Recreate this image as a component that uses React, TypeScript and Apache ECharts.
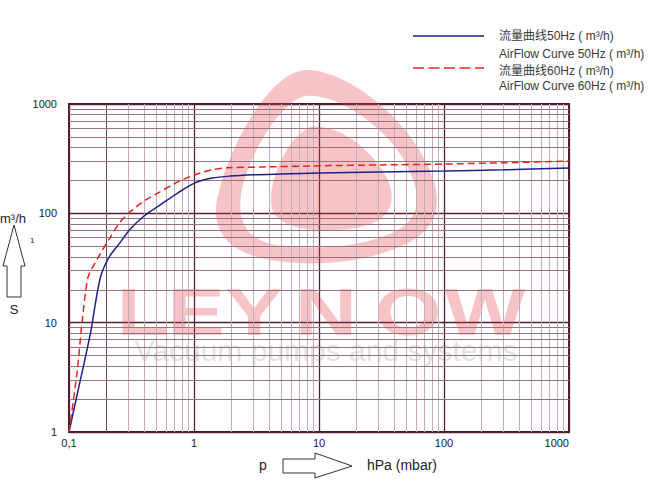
import React, { useEffect, useRef } from "react";
import * as echarts from "echarts";

// ---- data ----
const pressure50 = [0.1, 0.12, 0.134, 0.15, 0.161, 0.17, 0.18, 0.195, 0.213, 0.256, 0.307, 0.4, 0.534, 0.75, 1.02, 1.4, 1.94, 3, 5, 10, 30, 100, 300, 1000];
const flow50 = [1, 2.6, 4.6, 8.5, 14, 20, 27, 34, 41, 54, 71, 95, 119, 155, 190, 210, 219, 225, 229, 234, 239, 244, 250, 260];
const pressure60 = [0.1, 0.116, 0.127, 0.142, 0.167, 0.213, 0.256, 0.307, 0.4, 0.534, 0.75, 1.06, 1.4, 1.84, 3.36, 10, 30, 100, 300, 1000];
const flow60 = [1, 3.5, 9.9, 26, 37.5, 60, 83, 103, 130, 157, 195, 229, 250, 261, 265, 272, 277, 282, 290, 300];

const xMinorTicks = [0.2, 0.3, 0.4, 0.5, 0.6, 0.7, 0.8, 0.9, 2, 3, 4, 5, 6, 7, 8, 9, 20, 30, 40, 50, 60, 70, 80, 90, 200, 300, 400, 500, 600, 700, 800, 900];
const yMinorTicks = [2, 3, 4, 5, 6, 7, 8, 9, 20, 30, 40, 50, 60, 70, 80, 90, 200, 300, 400, 500, 600, 700, 800, 900];

const legendLabels = [
  "流量曲线50Hz ( m³/h)",
  "AirFlow Curve 50Hz ( m³/h)",
  "流量曲线60Hz ( m³/h)",
  "AirFlow Curve 60Hz ( m³/h)",
];

const FONT = "Liberation Sans, Arial, Noto Sans CJK SC, sans-serif";
const MAJOR = "#55222f";
const BORDER = "#4a1a28";
const XMINOR = "#c4adb4";
const YMINOR = "#98737d";
const TINT = "rgba(225,60,70,0.3)";

const LOGO_D =
  "M 305 70 C 340 68 400 110 425 160 C 445 200 440 225 410 242 C 370 262 320 268 270 260 C 225 252 210 228 218 195 C 228 150 268 73 305 70 Z " +
  "M 306 96 C 280 100 246 160 241 195 C 237 225 250 240 275 245 C 320 251 370 246 400 229 C 424 213 420 190 405 162 C 385 125 335 93 306 96 Z " +
  "M 310 127 C 340 124 373 150 388 180 C 398 205 388 223 355 228 C 320 233 287 230 274 214 C 264 198 280 142 310 127 Z";

let registered = false;

export default function App() {
  const ref = useRef<HTMLDivElement>(null);
  useEffect(() => {
    if (!registered) {
      echarts.graphic.registerShape("logo", echarts.graphic.extendPath(LOGO_D, {}));
      registered = true;
    }
    const chart = echarts.init(ref.current!, null, { renderer: "svg" });
    const letters = [
      { t: "L", x: 143 },
      { t: "E", x: 196 },
      { t: "Y", x: 254 },
      { t: "N", x: 326 },
      { t: "O", x: 408 },
      { t: "W", x: 485 },
    ];
    const option: any = {
      animation: false,
      backgroundColor: "#ffffff",
      textStyle: { fontFamily: FONT },
      grid: {
        left: 69,
        top: 104,
        width: 500,
        height: 328,
        show: true,
        borderColor: BORDER,
        borderWidth: 2,
        backgroundColor: "transparent",
      },
      xAxis: {
        type: "log",
        logBase: 10,
        min: 0.1,
        max: 1000,
        axisLine: { show: false },
        axisTick: { show: false },
        axisLabel: {
          color: "#222",
          fontSize: 11,
          margin: 5,
          fontFamily: FONT,
          alignMaxLabel: "right",
          formatter: (v: number) => (Math.abs(v - 0.1) < 1e-9 ? "0,1" : String(Math.round(v))),
        },
        splitLine: { show: true, lineStyle: { color: MAJOR, width: 1.3 } },
      },
      yAxis: {
        type: "log",
        logBase: 10,
        min: 1,
        max: 1000,
        axisLine: { show: false },
        axisTick: { show: false },
        axisLabel: {
          color: "#222",
          fontSize: 11,
          margin: 12,
          fontFamily: FONT,
          formatter: (v: number) => String(Math.round(v)),
        },
        splitLine: { show: true, lineStyle: { color: MAJOR, width: 1.3 } },
      },
      series: [
        {
          type: "line",
          name: "minor",
          data: [[0.1, 1]],
          showSymbol: false,
          symbol: "none",
          lineStyle: { width: 0, opacity: 0 },
          z: 1,
          silent: true,
          markLine: {
            silent: true,
            symbol: ["none", "none"],
            label: { show: false },
            animation: false,
            data: [
              ...xMinorTicks.map((v) => ({
                xAxis: v,
                lineStyle: { color: Math.abs(v - 0.2) < 1e-9 ? "#6e4a55" : XMINOR, width: 1, type: "solid" },
              })),
              ...yMinorTicks.map((v) => ({
                yAxis: v,
                lineStyle: { color: YMINOR, width: 1, type: "solid" },
              })),
            ],
          },
        },
        {
          type: "line",
          name: "50Hz",
          data: pressure50.map((p, i) => [p, flow50[i]]),
          showSymbol: false,
          symbol: "none",
          smooth: 0.3,
          z: 5,
          lineStyle: { color: "#1f1f8c", width: 1.5 },
        },
        {
          type: "line",
          name: "60Hz",
          data: pressure60.map((p, i) => [p, flow60[i]]),
          showSymbol: false,
          symbol: "none",
          smooth: 0.25,
          z: 5,
          lineStyle: { color: "#e8231f", width: 1.5, type: [7, 4] },
        },
      ],
      graphic: [
        // watermark
        { type: "logo", x: 0, y: 0, z: 3, silent: true, style: { fill: TINT } },
        ...letters.map((l) => ({
          type: "text",
          x: l.x,
          y: 311,
          z: 3,
          silent: true,
          scaleX: 1.28,
          style: {
            text: l.t,
            fill: TINT,
            font: `bold 67px ${FONT}`,
            textAlign: "center",
            textVerticalAlign: "middle",
          },
        })),
        {
          type: "text",
          x: 326,
          y: 350,
          z: 3,
          silent: true,
          style: {
            text: "Vacuum pumps and systems",
            fill: "rgba(120,120,120,0.22)",
            font: `30px ${FONT}`,
            textAlign: "center",
            textVerticalAlign: "middle",
          },
        },
        // legend
        { type: "line", z: 10, shape: { x1: 413, y1: 36, x2: 484, y2: 36 }, style: { stroke: "#1f1f8c", lineWidth: 1.5 } },
        { type: "line", z: 10, shape: { x1: 413, y1: 68, x2: 484, y2: 68 }, style: { stroke: "#e8231f", lineWidth: 1.5, lineDash: [11, 4.5] } },
        ...legendLabels.map((t, i) => ({
          type: "text",
          z: 10,
          x: 499,
          y: [36, 54, 71, 86][i],
          style: { text: t, fill: "#3a3a3a", font: `12px ${FONT}`, textVerticalAlign: "middle" },
        })),
        // y axis title and arrow
        { type: "text", z: 10, x: 0, y: 218, style: { text: "m³/h", fill: "#222", font: `13px ${FONT}`, textVerticalAlign: "middle" } },
        { type: "text", z: 10, x: 30, y: 240, style: { text: "1", fill: "#222", font: `8px ${FONT}`, textVerticalAlign: "middle" } },
        {
          type: "polygon",
          z: 10,
          shape: { points: [[14, 225], [25, 266], [21, 266], [21, 297], [7, 297], [7, 266], [3, 266]] },
          style: { fill: "#fff", stroke: "#333", lineWidth: 1 },
        },
        { type: "text", z: 10, x: 14, y: 309, style: { text: "S", fill: "#222", font: `13px ${FONT}`, textAlign: "center", textVerticalAlign: "middle" } },
        // x axis title and arrow
        { type: "text", z: 10, x: 263, y: 465, style: { text: "p", fill: "#222", font: `14px ${FONT}`, textAlign: "center", textVerticalAlign: "middle" } },
        {
          type: "polygon",
          z: 10,
          shape: { points: [[283, 459], [315, 459], [315, 453], [352, 466], [315, 478], [315, 473], [283, 473]] },
          style: { fill: "#fff", stroke: "#333", lineWidth: 1 },
        },
        { type: "text", z: 10, x: 367, y: 465, style: { text: "hPa (mbar)", fill: "#222", font: `14px ${FONT}`, textVerticalAlign: "middle" } },
      ],
    };
    chart.setOption(option);
    return () => chart.dispose();
  }, []);
  return <div ref={ref} style={{ width: 650, height: 500, position: "absolute", left: 0, top: 0 }} />;
}
